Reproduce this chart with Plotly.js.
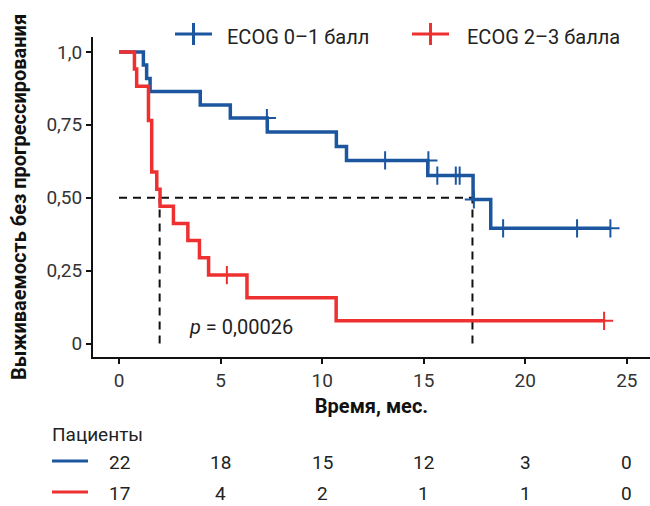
<!DOCTYPE html>
<html>
<head>
<meta charset="utf-8">
<script src="https://cdn.plot.ly/plotly-3.0.1.min.js"></script>
<style>html,body{margin:0;padding:0;background:#fff;}#chart{width:650px;height:506px;}</style>
</head>
<body>
<div id="chart"></div>
<script>
// ---- data ----
const seriesNames = ['ECOG 0–1 балл', 'ECOG 2–3 балла'];

const blueTime = [0, 1.2, 1.36, 1.53, 4.0, 5.48, 7.3, 10.7, 11.2, 15.2, 17.43, 18.3, 24.19];
const blueSurv = [1, 0.955, 0.909, 0.864, 0.818, 0.773, 0.725, 0.676, 0.628, 0.576, 0.494, 0.395, 0.395];
const blueCensTime = [7.28, 13.1, 15.23, 15.67, 16.58, 16.77, 17.47, 18.91, 22.55, 24.19];
const blueCensSurv = [0.773, 0.628, 0.628, 0.576, 0.576, 0.576, 0.494, 0.395, 0.395, 0.395];

const redTime = [0, 0.76, 0.87, 1.45, 1.61, 1.86, 2.02, 2.68, 3.39, 3.96, 4.41, 6.3, 10.69, 23.88];
const redSurv = [1, 0.941, 0.882, 0.765, 0.588, 0.529, 0.471, 0.412, 0.353, 0.294, 0.235, 0.157, 0.078, 0.078];
const redCensTime = [5.31, 23.88];
const redCensSurv = [0.235, 0.078];

const medianBlue = 17.4;
const medianRed = 2.0;
const medianLevel = 0.5;

const xTickVals = [0, 5, 10, 15, 20, 25];
const yTickVals = [0, 0.25, 0.5, 0.75, 1];
const yTickText = ['0', '0,25', '0,50', '0,75', '1,0'];

const riskTimes = [0, 5, 10, 15, 20, 25];
const riskBlue = [22, 18, 15, 12, 3, 0];
const riskRed = [17, 4, 2, 1, 1, 0];

const pText = '<i>p</i> = 0,00026';
const xTitle = 'Время, мес.';
const yTitle = 'Выживаемость без прогрессирования';
const riskTitle = 'Пациенты';

// ---- styling ----
const BLUE = '#1b569e';
const RED = '#ee3030';
const FONT = 'Roboto, "Noto Sans", Arial, sans-serif';
const TXT = '#222';

const W = 650, H = 506;
const M = {l: 93, r: 0, t: 37, b: 149};
const pw = W - M.l - M.r, ph = H - M.t - M.b;
const px2x = p => (p - M.l) / pw;
const py2y = p => (H - M.b - p) / ph;

const traces = [
  {x: blueTime, y: blueSurv, mode: 'lines', line: {shape: 'hv', color: BLUE, width: 3.5}, name: seriesNames[0], showlegend: false, hoverinfo: 'skip'},
  {x: blueCensTime, y: blueCensSurv, mode: 'markers', marker: {symbol: 'cross-thin-open', size: 13, color: BLUE, line: {color: BLUE, width: 2}}, showlegend: false, hoverinfo: 'skip'},
  {x: redTime, y: redSurv, mode: 'lines', line: {shape: 'hv', color: RED, width: 3.5}, name: seriesNames[1], showlegend: false, hoverinfo: 'skip'},
  {x: redCensTime, y: redCensSurv, mode: 'markers', marker: {symbol: 'cross-thin-open', size: 13, color: RED, line: {color: RED, width: 2}}, showlegend: false, hoverinfo: 'skip'}
];

const dash = {color: '#111', width: 2, dash: '8px,6px'};
const shapes = [
  {type: 'line', xref: 'x', yref: 'y', x0: 0, x1: medianBlue, y0: medianLevel, y1: medianLevel, line: dash, layer: 'below'},
  {type: 'line', xref: 'x', yref: 'y', x0: medianRed, x1: medianRed, y0: 0, y1: medianLevel, line: dash, layer: 'below'},
  {type: 'line', xref: 'x', yref: 'y', x0: medianBlue, x1: medianBlue, y0: 0, y1: medianLevel, line: dash, layer: 'below'}
];

// legend (manual)
const legendItems = [
  {color: BLUE, x0: 175, x1: 212, text: seriesNames[0], tx: 225},
  {color: RED, x0: 412, x1: 449, text: seriesNames[1], tx: 465}
];
const legY = 34;
const annotations = [];
legendItems.forEach(it => {
  shapes.push({type: 'line', xref: 'paper', yref: 'paper', x0: px2x(it.x0), x1: px2x(it.x1), y0: py2y(legY), y1: py2y(legY), line: {color: it.color, width: 3}});
  const cx = (it.x0 + it.x1) / 2;
  shapes.push({type: 'line', xref: 'paper', yref: 'paper', x0: px2x(cx), x1: px2x(cx), y0: py2y(legY - 11), y1: py2y(legY + 11), line: {color: it.color, width: 3}});
  annotations.push({xref: 'paper', yref: 'paper', x: px2x(it.tx), y: py2y(legY + 3), xanchor: 'left', yanchor: 'middle', text: it.text, showarrow: false, font: {family: FONT, size: 20, color: TXT}});
});

// p-value
annotations.push({xref: 'x', yref: 'y', x: 3.35, y: 0.056, xanchor: 'left', yanchor: 'middle', text: pText, showarrow: false, font: {family: FONT, size: 20, color: TXT}});

// risk table
annotations.push({xref: 'paper', yref: 'paper', x: px2x(50), y: py2y(434), xanchor: 'left', yanchor: 'middle', text: riskTitle, showarrow: false, font: {family: FONT, size: 19, color: TXT}});
const rowY = [462, 493];
const rowColors = [BLUE, RED];
[riskBlue, riskRed].forEach((row, i) => {
  shapes.push({type: 'line', xref: 'paper', yref: 'paper', x0: px2x(52), x1: px2x(88), y0: py2y(rowY[i] - 1), y1: py2y(rowY[i] - 1), line: {color: rowColors[i], width: 3}});
  row.forEach((v, j) => {
    annotations.push({xref: 'x', yref: 'paper', x: riskTimes[j], y: py2y(rowY[i]), xanchor: 'center', yanchor: 'middle', text: String(v), showarrow: false, font: {family: FONT, size: 19, color: TXT}});
  });
});

const layout = {
  width: W, height: H,
  margin: M,
  paper_bgcolor: '#fff', plot_bgcolor: '#fff',
  showlegend: false,
  font: {family: FONT, size: 19, color: TXT},
  xaxis: {
    range: [-1.28, 26.14], tickvals: xTickVals, ticktext: xTickVals.map(String),
    showline: true, linecolor: '#111', linewidth: 2, ticks: 'outside', ticklen: 5, tickwidth: 2, tickcolor: '#111',
    showgrid: false, zeroline: false, tickfont: {family: FONT, size: 19, color: '#333'},
    title: {text: xTitle, standoff: 8, font: {family: FONT, size: 20, color: '#111', weight: 'bold'}},
    automargin: false, fixedrange: true
  },
  yaxis: {
    range: [-0.046, 1.051], tickvals: yTickVals, ticktext: yTickText,
    showline: true, linecolor: '#111', linewidth: 2, ticks: 'outside', ticklen: 5, tickwidth: 2, tickcolor: '#111',
    showgrid: false, zeroline: false, tickfont: {family: FONT, size: 19, color: '#333'},
    title: {text: yTitle, standoff: 14, font: {family: FONT, size: 20, color: '#111', weight: 'bold'}},
    automargin: false, fixedrange: true
  },
  shapes: shapes,
  annotations: annotations
};

Plotly.newPlot('chart', traces, layout, {staticPlot: true, displayModeBar: false});
</script>
</body>
</html>
